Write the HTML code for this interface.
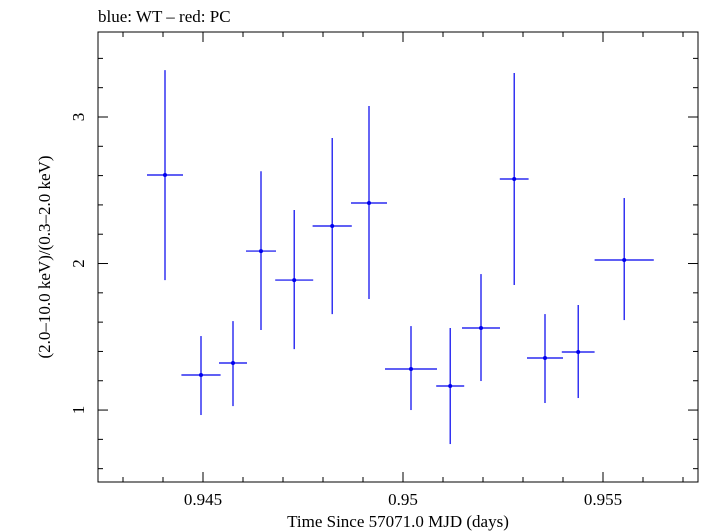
<!DOCTYPE html>
<html><head><meta charset="utf-8"><style>
body{margin:0;background:#fff;}
svg{display:block;font-family:"Liberation Serif",serif;}
</style></head><body>
<svg id="chart" width="705" height="532"></svg>
<script>
const xVals=[0.94405,0.94495,0.94575,0.94645,0.94728,0.94823,0.94915,0.9502,0.95118,0.95195,0.95278,0.95355,0.95438,0.95553];
const xErr=[0.00045,0.00049,0.00035,0.000375,0.000475,0.00049,0.00045,0.00065,0.00035,0.000475,0.00036,0.00045,0.00041,0.00074];
const yVals=[2.604,1.239,1.321,2.085,1.887,2.256,2.413,1.28,1.164,1.56,2.577,1.355,1.396,2.024];
const yHi=[3.32,1.505,1.607,2.63,2.365,2.857,3.075,1.573,1.56,1.928,3.30,1.655,1.717,2.447];
const yLo=[1.887,0.966,1.027,1.546,1.416,1.655,1.758,1.0,0.768,1.198,1.853,1.048,1.082,1.614];
const xTicks=[0.945,0.95,0.955];
const xTickLabels=["0.945","0.95","0.955"];
const yTicks=[1,2,3];
const yTickLabels=["1","2","3"];

const L=98,R=698,T=32,B=482;
const x0=0.942375,x1=0.957375,y0=0.509,y1=3.58;
const sx=v=>L+(v-x0)/(x1-x0)*(R-L);
const sy=v=>B-(v-y0)/(y1-y0)*(B-T);
const svg=document.getElementById('chart');
const NS='http://www.w3.org/2000/svg';
function mk(tag,attrs,parent){const e=document.createElementNS(NS,tag);for(const k in attrs)e.setAttribute(k,attrs[k]);(parent||svg).appendChild(e);return e;}

const frame=mk('rect',{x:L,y:T,width:R-L,height:B-T,fill:'none',stroke:'#000','stroke-width':1});



const axes=mk('g',{stroke:'#000','stroke-width':1});


for(let v=0.943;v<=0.9572;v+=0.001){const px=sx(v);const major=xTicks.some(t=>Math.abs(t-v)<1e-7);const len=major?10:5;
 mk('line',{x1:px,x2:px,y1:B,y2:B-len},axes);mk('line',{x1:px,x2:px,y1:T,y2:T+len},axes);}
for(let v=0.6;v<=3.58;v+=0.1){const py=sy(v);const major=yTicks.some(t=>Math.abs(t-v)<1e-7);const minor5=Math.abs(v*10-Math.round(v*10))<1e-6&&Math.round(v*10)%2===0;
 if(!major&&!minor5)continue;const len=major?10:5;
 mk('line',{x1:L,x2:L+len,y1:py,y2:py},axes);mk('line',{x1:R,x2:R-len,y1:py,y2:py},axes);}

xTicks.forEach((t,i)=>{const e=mk('text',{x:sx(t),y:505,'text-anchor':'middle','font-size':17});e.textContent=xTickLabels[i];
 });
yTicks.forEach((t,i)=>{const py=sy(t);const e=mk('text',{x:84,y:py,'text-anchor':'middle','font-size':17,transform:`rotate(-90 84 ${py})`});e.textContent=yTickLabels[i];
 });

const xt=mk('text',{x:398,y:527,'text-anchor':'middle','font-size':17});xt.textContent='Time Since 57071.0 MJD (days)';

const yt=mk('text',{x:50,y:257,'text-anchor':'middle','font-size':17,transform:'rotate(-90 50 257)'});yt.textContent='(2.0\u201310.0 keV)/(0.3\u20132.0 keV)';

const tt=mk('text',{x:98,y:22,'font-size':17});tt.textContent='blue: WT \u2013 red: PC';


const g=mk('g',{stroke:'#0000ee','stroke-width':1.2});

xVals.forEach((v,i)=>{const p=mk('g',{},g);
 
 mk('line',{x1:sx(v-xErr[i]),x2:sx(v+xErr[i]),y1:sy(yVals[i]),y2:sy(yVals[i])},p);
 mk('line',{x1:sx(v),x2:sx(v),y1:sy(yLo[i]),y2:sy(yHi[i])},p);
 mk('circle',{cx:sx(v),cy:sy(yVals[i]),r:2,fill:'#0000ee',stroke:'none'},p);});
</script>
</body></html>
